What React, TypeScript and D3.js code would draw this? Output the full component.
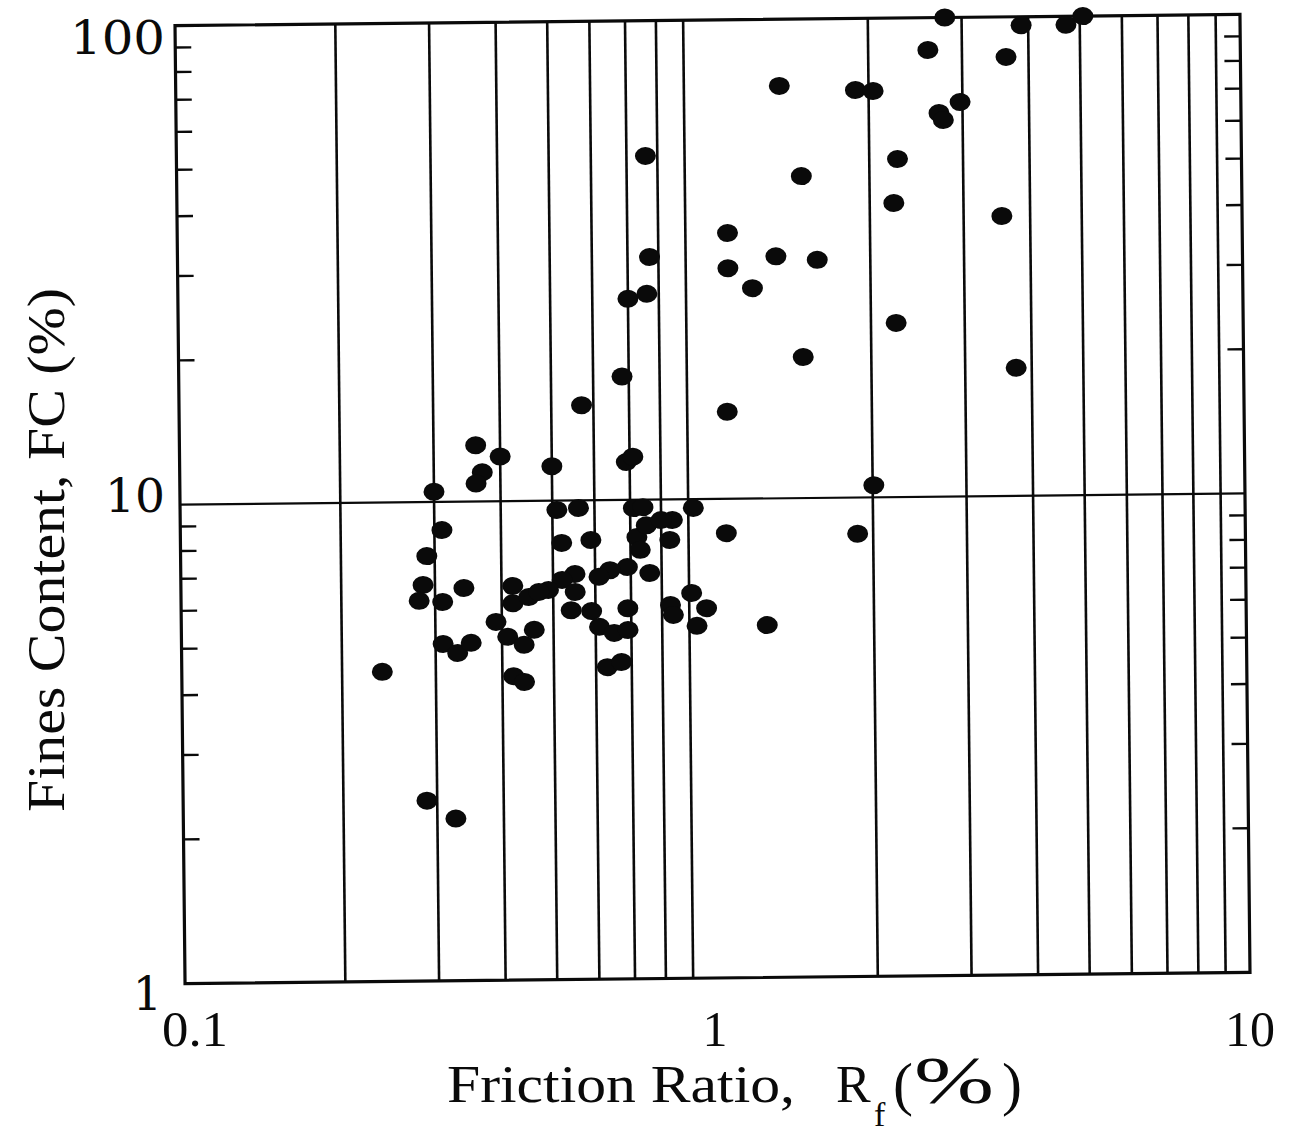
import React from "react";
import * as d3 from "d3";

// Friction ratio Rf (%) and fines content FC (%) for each CPT/sample pair
const frictionRatio = [
  1.36, 1.89, 2.04, 2.59, 2.79, 3.88, 4.71, 5.07, 3.63, 2.71,
  2.76, 2.97, 0.76, 1.49, 2.26, 2.22, 3.54, 1.08, 1.08, 1.33,
  1.59, 1.2, 0.77, 0.7, 0.76, 2.23, 1.49, 3.74, 0.68, 1.07,
  0.57, 0.36, 0.4, 0.37, 0.36, 0.3, 0.5, 0.69, 0.71, 2.01,
  1.87, 1.26, 1.06, 0.51, 0.56, 0.71, 0.74, 0.92, 0.84, 0.31,
  0.29, 0.52, 0.59, 0.72, 0.73, 0.83, 0.76, 0.69, 0.64, 0.61,
  0.55, 0.52, 0.49, 0.55, 0.285, 0.28, 0.31, 0.34, 0.42, 0.42,
  0.45, 0.47, 0.54, 0.59, 0.61, 0.65, 0.69, 0.69, 0.83, 0.84,
  0.91, 0.97, 0.93, 0.39, 0.41, 0.44, 0.46, 0.31, 0.33, 0.35,
  0.238, 0.42, 0.44, 0.63, 0.67, 0.287, 0.325, 0.75, 0.8,
];
const finesContent = [
  72.6, 70.9, 70.5, 85.6, 100, 96, 96, 100, 82.5, 63.2,
  61.1, 66.6, 52.2, 47.0, 50.8, 41.1, 38.4, 35.9, 30.3, 32.0,
  31.4, 27.5, 32.1, 26.3, 26.9, 23.1, 19.7, 18.5, 18.1, 15.2,
  15.8, 13.1, 12.4, 11.5, 10.9, 10.5, 11.8, 12.0, 12.3, 10.6,
  8.4, 5.44, 8.48, 9.56, 9.64, 9.61, 9.65, 9.59, 9.06, 8.73,
  7.71, 8.16, 8.26, 8.36, 7.86, 8.23, 7.03, 7.24, 7.14, 6.92,
  7.02, 6.83, 6.51, 6.44, 6.71, 6.22, 6.18, 6.6, 6.65, 6.12,
  6.3, 6.45, 5.9, 5.87, 5.44, 5.28, 5.94, 5.35, 6.02, 5.74,
  6.37, 5.92, 5.44, 5.6, 5.21, 5.01, 5.38, 5.05, 4.83, 5.07,
  4.43, 4.31, 4.19, 4.48, 4.59, 2.38, 2.18, 8.84, 9.06,
];

// Grid/tick values
const xGridValues = [0.2, 0.3, 0.4, 0.5, 0.6, 0.7, 0.8, 0.9, 2, 3, 4, 5, 6, 7, 8, 9];
const yMinorTicks = [2, 3, 4, 5, 6, 7, 8, 9, 20, 30, 40, 50, 60, 70, 80, 90];
const yMajorLine = 10;

const X0 = 180;
const X1 = 1245;
const Y0 = 20;
const Y1 = 978;

export default function App() {
  const x = d3.scaleLog().domain([0.1, 10]).range([X0, X1]);
  const y = d3.scaleLog().domain([1, 100]).range([Y1, Y0]);
  const cx = (X0 + X1) / 2;
  const cy = (Y0 + Y1) / 2;
  const points = frictionRatio.map((r, i) => ({ r, fc: finesContent[i] }));
  const ink = "#0a0a0a";

  return (
    <svg
      width={1296}
      height={1137}
      viewBox="0 0 1296 1137"
      style={{ position: "absolute", left: 0, top: 0, background: "#fff" }}
    >
      <rect x={0} y={0} width={1296} height={1137} fill="#fff" />
      <g transform={`rotate(-0.6, ${cx}, ${cy})`}>
        {/* vertical grid lines at every log subdivision */}
        {xGridValues.map((v) => (
          <line
            key={"gx" + v}
            x1={x(v)}
            x2={x(v)}
            y1={Y0}
            y2={Y1}
            stroke={ink}
            strokeWidth={2.6}
          />
        ))}
        {/* horizontal line at FC = 10 */}
        <line
          x1={X0}
          x2={X1}
          y1={y(yMajorLine)}
          y2={y(yMajorLine)}
          stroke={ink}
          strokeWidth={2.2}
        />
        {/* inner tick marks on both vertical borders */}
        {yMinorTicks.map((v) => (
          <g key={"ty" + v}>
            <line x1={X0} x2={X0 + 16} y1={y(v)} y2={y(v)} stroke={ink} strokeWidth={2.4} />
            <line x1={X1 - 16} x2={X1} y1={y(v)} y2={y(v)} stroke={ink} strokeWidth={2.4} />
          </g>
        ))}
        {/* frame */}
        <rect
          x={X0}
          y={Y0}
          width={X1 - X0}
          height={Y1 - Y0}
          fill="none"
          stroke={ink}
          strokeWidth={3.2}
        />
        {/* data points */}
        {points.map((p, i) => (
          <ellipse
            key={"p" + i}
            cx={x(p.r)}
            cy={y(p.fc)}
            rx={10.5}
            ry={9}
            fill={ink}
          />
        ))}
      </g>

      {/* y tick labels */}
      <g fontFamily="'DejaVu Serif', serif" fill={ink} fontSize={46}>
        <text x={165} y={54} textAnchor="end" textLength={95} lengthAdjust="spacingAndGlyphs">100</text>
        <text x={165} y={512} textAnchor="end" textLength={60} lengthAdjust="spacingAndGlyphs">10</text>
        <text x={162} y={1010} textAnchor="end">1</text>
      </g>
      {/* x tick labels */}
      <g fontFamily="'Liberation Serif', serif" fill={ink} fontSize={50}>
        <text x={195} y={1046} textAnchor="middle" textLength={66} lengthAdjust="spacingAndGlyphs">0.1</text>
        <text x={715} y={1046} textAnchor="middle">1</text>
        <text x={1250} y={1046} textAnchor="middle" textLength={50} lengthAdjust="spacingAndGlyphs">10</text>
      </g>

      {/* x axis title */}
      <g fontFamily="'Liberation Serif', serif" fill={ink} fontSize={52}>
        <text x={447} y={1102} textLength={348} lengthAdjust="spacingAndGlyphs">Friction Ratio,</text>
        <text x={836} y={1102}>R</text>
        <text x={874} y={1126} fontSize={34}>f</text>
        <text x={893} y={1104} fontSize={60}>(</text>
        <text x={914} y={1103} fontSize={68} textLength={80} lengthAdjust="spacingAndGlyphs">%</text>
        <text x={1002} y={1104} fontSize={60}>)</text>
      </g>

      {/* y axis title */}
      <text
        transform="translate(64, 550) rotate(-90)"
        textAnchor="middle"
        fontFamily="'Liberation Serif', serif"
        fontSize={52}
        fill={ink}
        textLength={524}
        lengthAdjust="spacingAndGlyphs"
      >
        Fines Content,  FC (%)
      </text>
    </svg>
  );
}
